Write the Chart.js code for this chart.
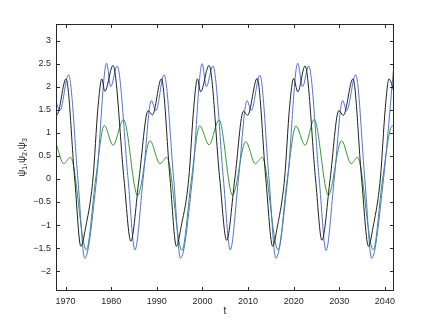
<!DOCTYPE html>
<html lang="en">
<head>
<meta charset="UTF-8">
<title>psi1, psi2, psi3</title>
<script src="https://cdn.jsdelivr.net/npm/chart.js"></script>
<style>
  html, body { margin: 0; padding: 0; background: #fff; }
  #wrap { width: 436px; height: 328px; }
</style>
</head>
<body>
<div id="wrap"><canvas id="psiChart" width="436" height="328"></canvas></div>
<script>
// key points (t, value)
const tBlue = [1967.9, 1968.75, 1970.65, 1972.7, 1974.2, 1976.8, 1979.0, 1979.9, 1981.3, 1983.7, 1985.2, 1987.0,
  1988.8, 1989.8, 1991.6, 1993.7, 1995.2, 1997.8, 1999.95, 2000.85, 2002.3, 2004.6, 2006.1, 2007.9,
  2009.8, 2010.7, 2012.6, 2014.6, 2016.1, 2018.7, 2020.9, 2021.95, 2023.3, 2025.6, 2027.1, 2028.9,
  2030.75, 2031.6, 2033.6, 2035.6, 2037.1, 2039.7, 2042.0];
const psiBlue = [1.68, 1.48, 2.26, 0.0, -1.72, 0.0, 2.51, 2.0, 2.45, 0.0, -1.54, 0.0,
  1.70, 1.48, 2.26, 0.0, -1.72, 0.0, 2.50, 2.0, 2.45, 0.0, -1.54, 0.0,
  1.70, 1.48, 2.25, 0.0, -1.72, 0.0, 2.51, 2.0, 2.45, 0.0, -1.55, 0.0,
  1.70, 1.48, 2.26, 0.0, -1.72, 0.0, 2.50];

const tGreen = [1967.9, 1969.6, 1971.1, 1974.55, 1976.6, 1978.5, 1980.4, 1982.7, 1985.8, 1988.5, 1990.7, 1992.2,
  1995.5, 1997.6, 1999.4, 2001.45, 2003.65, 2006.6, 2009.5, 2011.6, 2013.1, 2016.6, 2018.6, 2020.5,
  2022.5, 2024.5, 2027.6, 2030.5, 2032.6, 2034.0, 2037.45, 2039.5, 2041.6, 2042.0];
const psiGreen = [0.77, 0.33, 0.47, -1.54, 0.0, 1.16, 0.73, 1.29, -0.36, 0.83, 0.33, 0.47,
  -1.55, 0.0, 1.15, 0.74, 1.28, -0.35, 0.81, 0.33, 0.47, -1.54, 0.0, 1.15,
  0.73, 1.29, -0.35, 0.83, 0.33, 0.47, -1.54, 0.0, 1.15, 1.12];

const tBlack = [1967.9, 1968.1, 1970.1, 1972.0, 1973.35, 1974.4, 1976.0, 1977.1, 1977.95, 1978.6, 1980.4, 1982.8,
  1984.3, 1986.1, 1988.1, 1989.05, 1991.0, 1992.9, 1994.3, 1995.3, 1997.0, 1998.1, 1998.9, 1999.6,
  2001.45, 2003.8, 2005.3, 2007.1, 2009.0, 2009.9, 2012.0, 2013.9, 2015.4, 2016.4, 2018.0, 2019.1,
  2020.0, 2020.9, 2022.5, 2024.8, 2026.2, 2028.0, 2029.9, 2030.9, 2033.0, 2034.9, 2036.4, 2037.4,
  2039.0, 2040.1, 2040.9, 2042.0];
const psiBlack = [1.40, 1.39, 2.17, 0.0, -1.46, -1.05, 0.0, 1.55, 2.17, 1.90, 2.46, 0.0,
  -1.35, 0.0, 1.48, 1.39, 2.17, 0.0, -1.46, -1.05, 0.0, 1.55, 2.17, 1.89,
  2.46, 0.0, -1.33, 0.0, 1.47, 1.38, 2.18, 0.0, -1.46, -1.05, 0.0, 1.55,
  2.18, 1.89, 2.45, 0.0, -1.33, 0.0, 1.48, 1.38, 2.17, 0.0, -1.46, -1.05,
  0.0, 1.55, 2.17, 1.90];

const xTicks = [1970, 1980, 1990, 2000, 2010, 2020, 2030, 2040];
const yTicks = [-2, -1.5, -1, -0.5, 0, 0.5, 1, 1.5, 2, 2.5, 3];

function pts(ts, vs) {
  return ts.map((t, i) => ({ x: t, y: vs[i] }));
}

const axisColor = '#262626';
const tickFont = { family: 'Liberation Sans, Arial, sans-serif', size: 9 };

// box, inward ticks and axis labels, MATLAB style
const frame = {
  id: 'frame',
  afterDatasetsDraw(chart) {
    const { ctx, chartArea: a, scales } = chart;
    ctx.save();
    ctx.strokeStyle = axisColor;
    ctx.lineWidth = 1;
    ctx.strokeRect(a.left + 0.5, a.top + 0.5, a.right - a.left - 1, a.bottom - a.top - 1);
    ctx.beginPath();
    xTicks.forEach(v => {
      const px = Math.round(scales.x.getPixelForValue(v)) + 0.5;
      ctx.moveTo(px, a.bottom); ctx.lineTo(px, a.bottom - 4);
      ctx.moveTo(px, a.top); ctx.lineTo(px, a.top + 4);
    });
    yTicks.forEach(v => {
      const py = Math.round(scales.y.getPixelForValue(v)) + 0.5;
      ctx.moveTo(a.left, py); ctx.lineTo(a.left + 4, py);
      ctx.moveTo(a.right, py); ctx.lineTo(a.right - 4, py);
    });
    ctx.stroke();

    ctx.fillStyle = axisColor;
    ctx.font = '10px Liberation Sans, Arial, sans-serif';
    ctx.textAlign = 'center';
    ctx.textBaseline = 'middle';
    ctx.fillText('t', (a.left + a.right) / 2, 311);

    // y label: psi_1, psi_2, psi_3 with subscripts
    const parts = [['ψ', 0], ['1', 1], [',', 0], ['ψ', 0], ['2', 1], [',', 0], ['ψ', 0], ['3', 1]];
    const big = '10px Liberation Sans, Arial, sans-serif';
    const small = '7px Liberation Sans, Arial, sans-serif';
    let total = 0;
    parts.forEach(p => { ctx.font = p[1] ? small : big; total += ctx.measureText(p[0]).width; });
    ctx.translate(22, (a.top + a.bottom) / 2);
    ctx.rotate(-Math.PI / 2);
    ctx.textAlign = 'left';
    let x = -total / 2;
    parts.forEach(p => {
      ctx.font = p[1] ? small : big;
      ctx.fillText(p[0], x, p[1] ? 3 : 0);
      x += ctx.measureText(p[0]).width;
    });
    ctx.restore();
  }
};

const line = (label, data, color) => ({
  label, data, borderColor: color, borderWidth: 1, pointRadius: 0,
  fill: false, cubicInterpolationMode: 'monotone'
});

new Chart(document.getElementById('psiChart').getContext('2d'), {
  type: 'line',
  data: {
    datasets: [
      line('psi3', pts(tBlack, psiBlack), '#1e1e1e'),
      line('psi1', pts(tBlue, psiBlue), '#4f6ef2'),
      line('psi2', pts(tGreen, psiGreen), '#2f9f2f')
    ]
  },
  options: {
    responsive: false,
    animation: false,
    devicePixelRatio: 1,
    layout: { padding: { left: 0, top: 24, right: 42, bottom: 0 } },
    plugins: { legend: { display: false }, tooltip: { enabled: false } },
    scales: {
      x: {
        type: 'linear', min: 1967.9, max: 2042,
        grid: { display: false, drawTicks: false },
        border: { display: false },
        afterBuildTicks: s => { s.ticks = xTicks.map(v => ({ value: v })); },
        afterFit: s => { s.height = 37; },
        ticks: { font: tickFont, color: axisColor, padding: 5, maxRotation: 0, autoSkip: false,
          callback: v => String(v) }
      },
      y: {
        type: 'linear', min: -2.43, max: 3.36,
        grid: { display: false, drawTicks: false },
        border: { display: false },
        afterBuildTicks: s => { s.ticks = yTicks.map(v => ({ value: v })); },
        afterFit: s => { s.width = 56; },
        ticks: { font: tickFont, color: axisColor, padding: 5, autoSkip: false,
          callback: v => (v < 0 ? '−' : '') + Math.abs(v) }
      }
    }
  },
  plugins: [frame]
});
</script>
</body>
</html>
